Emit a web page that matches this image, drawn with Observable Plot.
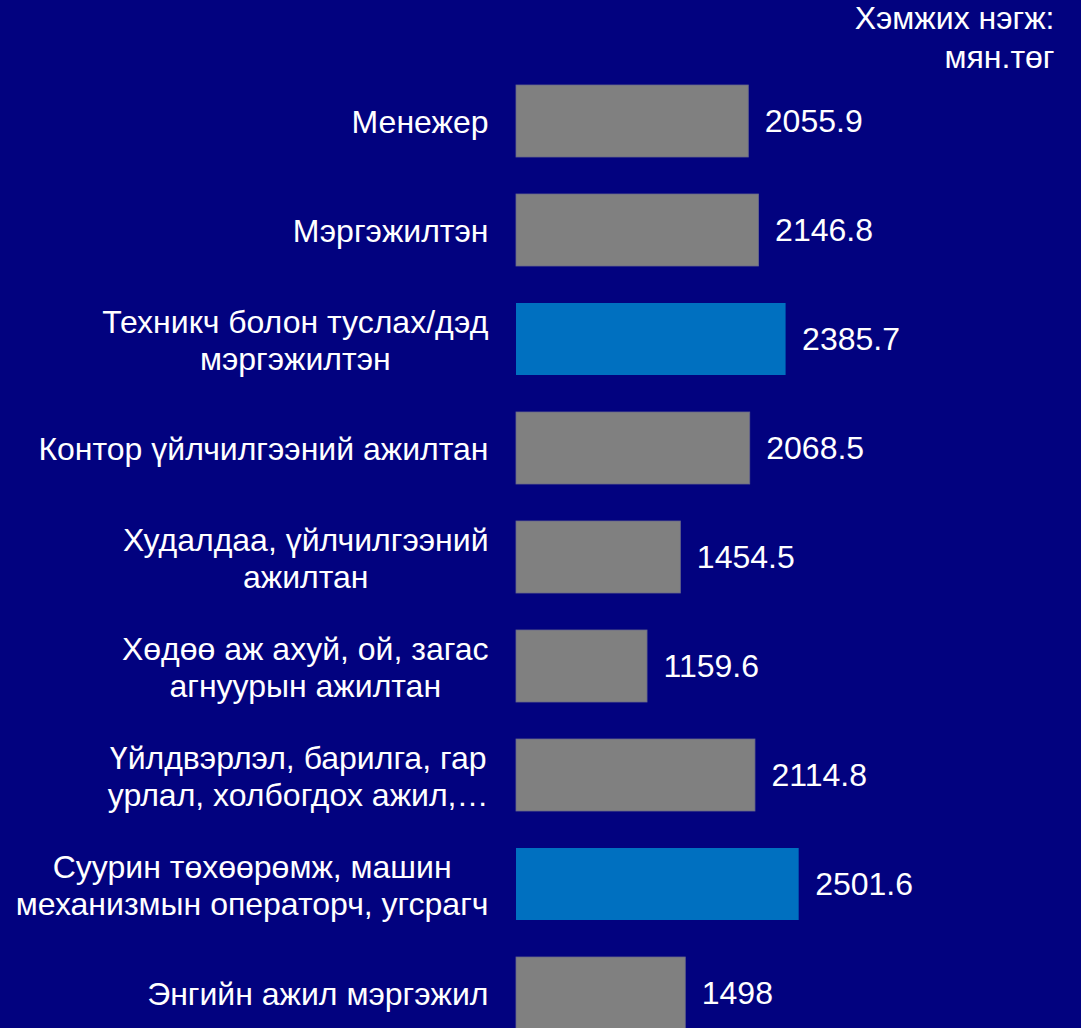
<!DOCTYPE html>
<html>
<head>
<meta charset="utf-8">
<script src="https://cdn.jsdelivr.net/npm/d3@7"></script>
<script src="https://cdn.jsdelivr.net/npm/@observablehq/plot@0.6"></script>
<style>
  html, body { margin: 0; padding: 0; background: #02027f; overflow: hidden; }
  #chart svg { display: block; }
</style>
</head>
<body>
<div id="chart"></div>
<script>
const categories = [
  "Менежер",
  "Мэргэжилтэн",
  "Техникч болон туслах/дэд мэргэжилтэн",
  "Контор үйлчилгээний ажилтан",
  "Худалдаа, үйлчилгээний ажилтан",
  "Хөдөө аж ахуй, ой, загас агнуурын ажилтан",
  "Үйлдвэрлэл, барилга, гар урлал, холбогдох ажил,…",
  "Суурин төхөөрөмж, машин механизмын операторч, угсрагч",
  "Энгийн ажил мэргэжил"
];
const tickLabels = [
  "Менежер",
  "Мэргэжилтэн",
  "Техникч болон туслах/дэд\nмэргэжилтэн",
  "Контор үйлчилгээний ажилтан",
  "Худалдаа, үйлчилгээний\nажилтан",
  "Хөдөө аж ахуй, ой, загас\nагнуурын ажилтан",
  "Үйлдвэрлэл, барилга, гар\nурлал, холбогдох ажил,…",
  "Суурин төхөөрөмж, машин\nмеханизмын операторч, угсрагч",
  "Энгийн ажил мэргэжил"
];
const values = [2055.9, 2146.8, 2385.7, 2068.5, 1454.5, 1159.6, 2114.8, 2501.6, 1498];
const highlighted = [
  "Техникч болон туслах/дэд мэргэжилтэн",
  "Суурин төхөөрөмж, машин механизмын операторч, угсрагч"
];
const unitLabel = "Хэмжих нэгж:\nмян.төг";

const data = categories.map((c, i) => ({cat: c, value: values[i], label: tickLabels[i]}));
const labelOf = new Map(data.map(d => [d.cat, d.label]));

const plot = Plot.plot({
  width: 1081,
  height: 1049,
  marginLeft: 516,
  marginRight: 0,
  marginTop: 65,
  marginBottom: 0,
  style: {background: "#02027f", color: "white", fontFamily: "'Liberation Sans', Arial, sans-serif"},
  x: {domain: [0, 5000], axis: null},
  y: {domain: categories, paddingInner: 0.34, paddingOuter: 0.17, label: null},
  marks: [
    Plot.barX(data, {
      y: "cat", x: "value",
      fill: d => highlighted.includes(d.cat) ? "#0070c0" : "#808080",
      stroke: d => highlighted.includes(d.cat) ? "none" : "#66668a",
      strokeWidth: 0.8
    }),
    Plot.text(data, {
      y: "cat", x: "value", text: d => String(d.value),
      textAnchor: "start", dx: 16, fill: "white", fontSize: 32
    }),
    Plot.axisY({
      tickSize: 0, tickPadding: 28, fontSize: 32, fill: "white",
      lineHeight: 1.16, tickFormat: c => labelOf.get(c), textAnchor: "end"
    }),
    Plot.text([unitLabel], {
      text: d => d, frameAnchor: "top-right", lineAnchor: "top",
      textAnchor: "end", dx: -27, dy: -64, fontSize: 32, fill: "white", lineHeight: 1.22
    })
  ]
});
document.getElementById("chart").appendChild(plot);

// center multi-line tick labels within their right-aligned block
plot.querySelectorAll('g[aria-label="y-axis tick label"] text').forEach(t => {
  if (t.querySelectorAll("tspan").length > 1) {
    const w = t.getBBox().width;
    t.setAttribute("text-anchor", "middle");
    const tr = t.getAttribute("transform") || "";
    t.setAttribute("transform", tr + ` translate(${-w / 2},0)`);
  }
});
</script>
</body>
</html>
